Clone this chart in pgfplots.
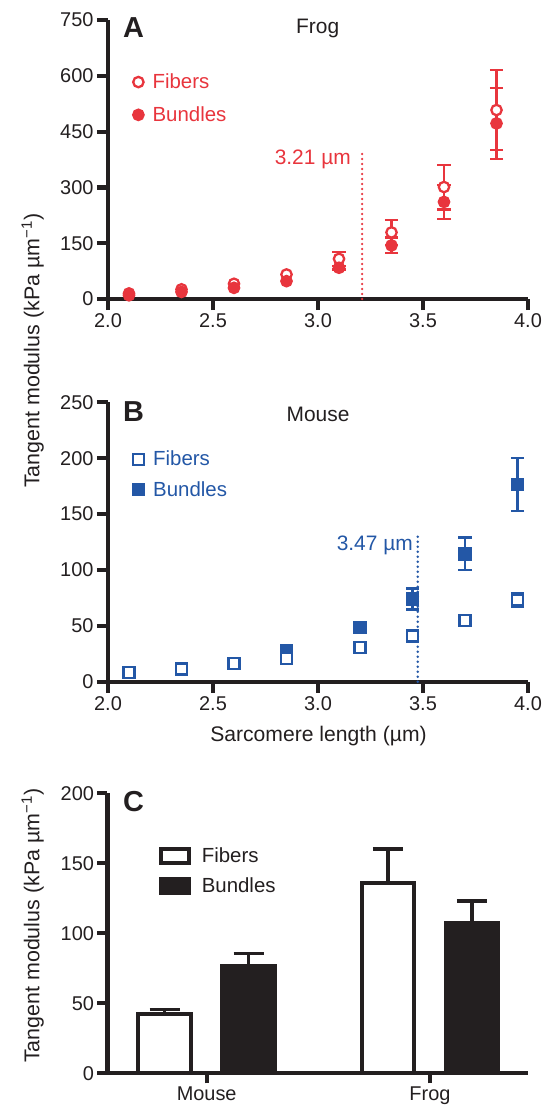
\documentclass[border=0pt]{standalone}
\usepackage{fontspec}
\setmainfont{Liberation Sans}
\usepackage{pgfplots}
\usepackage{pgfplotstable}
\pgfplotsset{compat=1.18}

\definecolor{frogred}{HTML}{E8353D}
\definecolor{mouseblue}{HTML}{2357A6}
\definecolor{ink}{HTML}{231F20}

% panel A: frog
\pgfplotstableread{
x     fib   bun
2.10  15    10
2.35  26    19
2.60  41    30
2.85  66    48
3.10  108   84
3.35  179   144
3.60  301   261
3.85  508   472
}\frog
\pgfplotstableread{
x     fib   fibe  bun   bune
3.10  108   19    84    5
3.35  179   33    144   21
3.60  301   60    261   45
3.85  508   108   472   95
}\frogerr

% panel B: mouse
\pgfplotstableread{
x     fib    bun
2.10  8.4    8.4
2.35  11.3   11.3
2.60  16.4   16.4
2.85  20.9   27.5
3.20  30.8   48.3
3.45  40.9   74.0
3.70  54.6   114.3
3.95  73.1   176.6
}\mouse
\pgfplotstableread{
x     bun    bune
3.20  48.3   3
3.45  74.0   9.3
3.70  114.3  14.6
3.95  176.6  23.6
}\mousebunerr
\pgfplotstableread{
x     fib    fibe
3.95  73.1   6
}\mousefiberr

% panel C (group centres Mouse=0, Frog=1; bars sit either side)
\pgfplotstableread{
xf      fib    fibe  xb     bun    bune
-0.188  42.2   3.6   0.188  76.3   9.1
0.812   136.0  24.3  1.188  107.4  15.7
}\tangent

\pgfplotsset{
  panel/.style={
    scale only axis, width=420bp, height=279bp,
    axis x line*=bottom, axis y line*=left,
    axis line style={line width=4.2bp, draw=ink},
    tick style={line width=4.2bp, draw=ink},
    major tick length=11bp, tick align=outside,
    tick label style={font=\fontsize{20}{22}\selectfont, text=ink},
    /pgf/number format/assume math mode=true,
    clip=false,
    legend cell align=left,
  },
  dotlegend/.style={
    legend image code/.code={\draw[mark repeat=1,##1] plot coordinates {(0bp,0bp)};},
  },
  ebars/.style={only marks, mark=none, forget plot,
    error bars/.cd, y dir=both, y explicit,
    error bar style={line width=2.3bp, draw=#1},
    error mark options={rotate=90, mark size=6.7bp, line width=2.3bp, draw=#1}},
}
\newcommand{\heavyaxes}{%
  \draw[line width=4.2bp, ink] (rel axis cs:0,0) -- (rel axis cs:1,0);
  \draw[line width=4.2bp, ink] (rel axis cs:0,0) -- (rel axis cs:0,1);}

\begin{document}
\begin{tikzpicture}
\useasboundingbox (0bp,0bp) rectangle (549bp,-1108bp);

% ---------- A ----------
\begin{axis}[panel, dotlegend, at={(108bp,-299bp)}, anchor=south west,
  xmin=2, xmax=4, ymin=0, ymax=750,
  xtick={2,2.5,...,4}, ytick={0,150,...,750},
  xticklabel style={/pgf/number format/.cd, fixed, fixed zerofill, precision=1},
  legend style={at={(0.0595,0.8075)}, anchor=north west, draw=none, fill=none,
    inner sep=0pt, row sep=16.5bp,
    nodes={inner sep=0pt, text=frogred, font=\fontsize{20.5}{22}\selectfont},
    /tikz/every odd column/.style={column sep=9bp}},
]
\heavyaxes
\addlegendimage{only marks, mark=*, mark size=5.2bp, line width=2.3bp, draw=frogred, fill=white}
\addlegendentry{Fibers}
\addlegendimage{only marks, mark=*, mark size=5.2bp, line width=2.3bp, draw=frogred, fill=frogred}
\addlegendentry{Bundles}
\addplot[forget plot, frogred, line width=2.6bp, dash pattern=on 0pt off 5bp, line cap=round]
  coordinates {(3.21,0) (3.21,400)};
\addplot[ebars=frogred] table[x=x, y=fib, y error=fibe] {\frogerr};
\addplot[forget plot, only marks, mark=*, mark size=5.2bp, line width=2.3bp,
  mark options={draw=frogred, fill=white}] table[x=x, y=fib] {\frog};
\addplot[ebars=frogred] table[x=x, y=bun, y error=bune] {\frogerr};
\addplot[forget plot, only marks, mark=*, mark size=5.2bp, line width=2.3bp,
  mark options={draw=frogred, fill=frogred}] table[x=x, y=bun] {\frog};
\end{axis}

% ---------- B ----------
\begin{axis}[panel, dotlegend, at={(108bp,-681.7bp)}, anchor=south west, height=279.4bp,
  xmin=2, xmax=4, ymin=0, ymax=250,
  xtick={2,2.5,...,4}, ytick={0,50,...,250},
  xticklabel style={/pgf/number format/.cd, fixed, fixed zerofill, precision=1},
  legend style={at={(0.0595,0.826)}, anchor=north west, draw=none, fill=none,
    inner sep=0pt, row sep=14bp,
    nodes={inner sep=0pt, text=mouseblue, font=\fontsize{20.5}{22}\selectfont},
    /tikz/every odd column/.style={column sep=9bp}},
]
\heavyaxes
\addlegendimage{only marks, mark=square*, mark size=5.5bp, line width=2.3bp, draw=mouseblue, fill=white}
\addlegendentry{Fibers}
\addlegendimage{only marks, mark=square*, mark size=5.5bp, line width=2.3bp, draw=mouseblue, fill=mouseblue}
\addlegendentry{Bundles}
\addplot[forget plot, mouseblue, line width=2.6bp, dash pattern=on 0pt off 5bp, line cap=round]
  coordinates {(3.475,0) (3.475,133)};
\addplot[ebars=mouseblue] table[x=x, y=bun, y error=bune] {\mousebunerr};
\addplot[forget plot, only marks, mark=square*, mark size=5.5bp, line width=2.3bp,
  mark options={draw=mouseblue, fill=mouseblue}] table[x=x, y=bun] {\mouse};
\addplot[ebars=mouseblue] table[x=x, y=fib, y error=fibe] {\mousefiberr};
\addplot[forget plot, only marks, mark=square*, mark size=5.5bp, line width=2.3bp,
  mark options={draw=mouseblue, fill=white}] table[x=x, y=fib] {\mouse};
\end{axis}

% ---------- C ----------
\begin{axis}[panel, at={(107.5bp,-1073.3bp)}, anchor=south west, width=420.5bp, height=280bp,
  xmin=-0.444, xmax=1.439, ymin=0, ymax=200,
  xtick={0,1}, xticklabels={Mouse,Frog}, ytick={0,50,...,200},
  major tick length=10bp,
  legend image code/.code={\draw[#1] (0bp,-7.1bp) rectangle (28.2bp,7.1bp);},
  legend style={at={(0.121,0.81)}, anchor=north west, draw=none, fill=none,
    inner sep=0pt, row sep=12bp,
    nodes={inner sep=0pt, text=ink, font=\fontsize{20.5}{22}\selectfont},
    /tikz/every odd column/.style={column sep=11bp}},
]
\heavyaxes
\addplot[ybar, bar width=52.8bp, bar shift=0pt, fill=white, draw=ink, line width=4bp,
  error bars/.cd, y dir=plus, y explicit,
  error bar style={line width=3.3bp, draw=ink},
  error mark options={rotate=90, mark size=15bp, line width=3.3bp, draw=ink}]
  table[x=xf, y=fib, y error=fibe] {\tangent};
\addlegendentry{Fibers}
\addplot[ybar, bar width=52.8bp, bar shift=0pt, fill=ink, draw=ink, line width=4bp,
  error bars/.cd, y dir=plus, y explicit,
  error bar style={line width=3.3bp, draw=ink},
  error mark options={rotate=90, mark size=15bp, line width=3.3bp, draw=ink}]
  table[x=xb, y=bun, y error=bune] {\tangent};
\addlegendentry{Bundles}
\end{axis}

% panel letters, titles, labels
\begin{scope}[every node/.style={inner sep=0pt, text=ink}]
\node[anchor=base west, font=\fontsize{29}{30}\selectfont\bfseries] at (123bp,-37.3bp) {A};
\node[anchor=base west, font=\fontsize{29}{30}\selectfont\bfseries] at (123bp,-421.7bp) {B};
\node[anchor=base west, font=\fontsize{29}{30}\selectfont\bfseries] at (123bp,-811bp) {C};
\node[anchor=base, font=\fontsize{21}{23}\selectfont] at (317.7bp,-33.3bp) {Frog};
\node[anchor=base, font=\fontsize{21}{23}\selectfont] at (318bp,-421bp) {Mouse};
\node[anchor=base east, font=\fontsize{21}{23}\selectfont, text=frogred] at (351bp,-164bp) {3.21 µm};
\node[anchor=base east, font=\fontsize{21}{23}\selectfont, text=mouseblue] at (413bp,-550bp) {3.47 µm};
\node[anchor=base, font=\fontsize{21.2}{23}\selectfont] at (318.5bp,-741bp) {Sarcomere length (µm)};
\node[anchor=base west, rotate=90, font=\fontsize{21.5}{23}\selectfont] at (39.3bp,-488bp)
  {Tangent modulus (kPa µm\textsuperscript{−1})};
\node[anchor=base west, rotate=90, font=\fontsize{21.5}{23}\selectfont] at (39.3bp,-1063bp)
  {Tangent modulus (kPa µm\textsuperscript{−1})};
\end{scope}
\end{tikzpicture}
\end{document}
